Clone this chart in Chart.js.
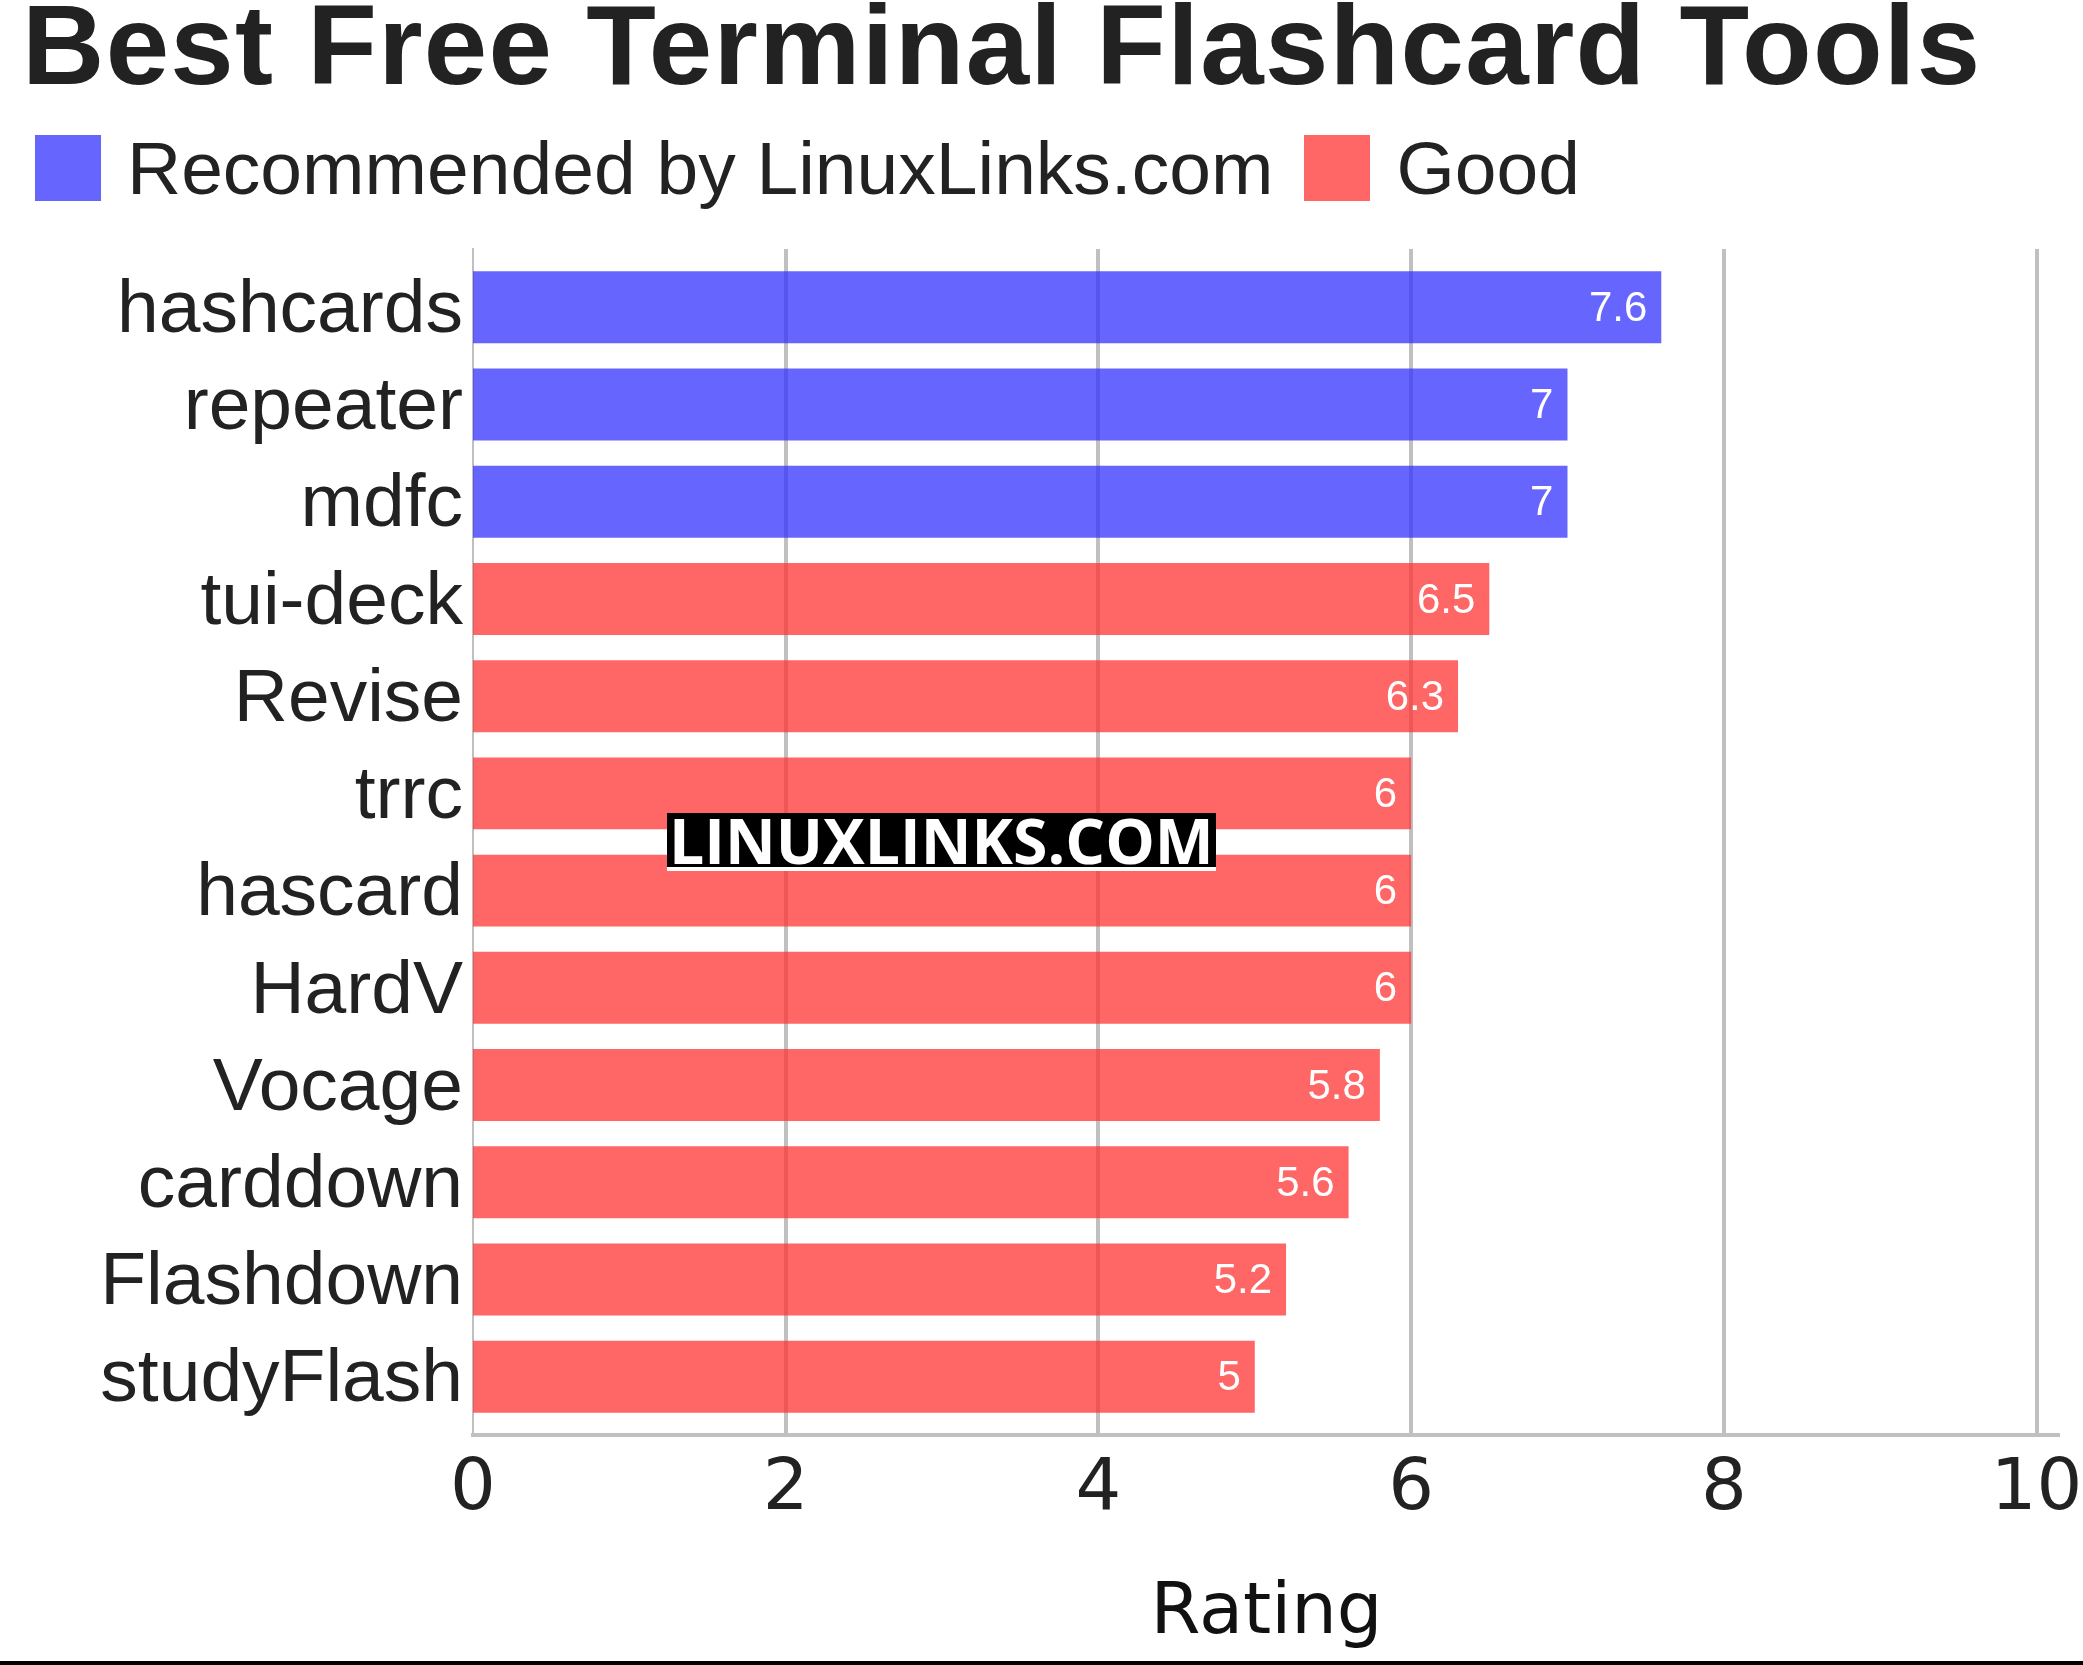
<!DOCTYPE html>
<html>
<head>
<meta charset="utf-8">
<title>Best Free Terminal Flashcard Tools</title>
<script src="https://cdn.jsdelivr.net/npm/chart.js@4.4.1/dist/chart.umd.min.js"></script>
<style>
  body { margin: 0; background: #fff; }
  #page { position: relative; width: 2083px; height: 1665px; overflow: hidden; background: #fff; }
  #title { position: absolute; left: 22px; top: -12px; font: bold 114px/114px "Liberation Sans", Arial, sans-serif; letter-spacing: 1.3px; color: #222; white-space: nowrap; }
  #legend { position: absolute; left: 35px; top: 135px; display: flex; height: 66px; font: 75px/66px "Liberation Sans", Arial, sans-serif; color: #222; white-space: nowrap; }
  #legend .item { display: flex; align-items: center; margin-right: 31px; }
  #legend .swatch { width: 66px; height: 66px; margin-right: 26px; }
  #chart { position: absolute; left: 0; top: 0; }
  #mark { position: absolute; left: 667px; top: 813px; height: 54px; padding: 0 2px; background: #000; border-bottom: 4px solid #fff; font: bold 62.5px/54px "Open Sans", sans-serif; color: #fff; white-space: nowrap; }
  #rule { position: absolute; left: 0; top: 1661px; width: 2083px; height: 4px; background: #000; }
</style>
</head>
<body>
<div id="page">
  <div id="title">Best Free Terminal Flashcard Tools</div>
  <div id="legend"></div>
  <canvas id="chart" width="2083" height="1660"></canvas>
  <div id="mark">LINUXLINKS.COM</div>
  <div id="rule"></div>
</div>
<script>
// tools, top to bottom
const tools = ['hashcards', 'repeater', 'mdfc', 'tui-deck', 'Revise', 'trrc',
               'hascard', 'HardV', 'Vocage', 'carddown', 'Flashdown', 'studyFlash'];

// ratings split by verdict (null = not in that group)
const recommended = [7.6, 7, 7, null, null, null, null, null, null, null, null, null];
const good        = [null, null, null, 6.5, 6.3, 6, 6, 6, 5.8, 5.6, 5.2, 5];

const seriesNames  = ['Recommended by LinuxLinks.com', 'Good'];
const seriesColors = ['#6666ff', '#ff6666'];
// bars are slightly see-through so the gridlines show faintly
const barColors    = ['rgba(51, 51, 255, 0.75)', 'rgba(255, 51, 51, 0.75)'];

const xTicks = [0, 2, 4, 6, 8, 10];

function toPoints(values) {
    const pts = [];
    values.forEach((v, i) => {
        if (v !== null) pts.push({ x: v, y: i });
    });
    return pts;
}

// html legend
const legendEl = document.getElementById('legend');
seriesNames.forEach((name, i) => {
    const item = document.createElement('div');
    item.className = 'item';
    const sw = document.createElement('div');
    sw.className = 'swatch';
    sw.style.background = seriesColors[i];
    const txt = document.createElement('span');
    txt.textContent = name;
    item.appendChild(sw);
    item.appendChild(txt);
    legendEl.appendChild(item);
});

// white value text at the end of every bar
const valueLabels = {
    id: 'valueLabels',
    afterDatasetsDraw(chart) {
        const ctx = chart.ctx;
        ctx.save();
        ctx.font = '42px "Liberation Sans", Arial, sans-serif';
        ctx.fillStyle = '#fff';
        ctx.textAlign = 'right';
        ctx.textBaseline = 'middle';
        chart.data.datasets.forEach((ds, di) => {
            chart.getDatasetMeta(di).data.forEach((bar, i) => {
                ctx.fillText(String(ds.data[i].x), bar.x - 14, bar.y + 2);
            });
        });
        ctx.restore();
    }
};

const ctx = document.getElementById('chart').getContext('2d');
new Chart(ctx, {
    type: 'bar',
    data: {
        datasets: [
            { label: seriesNames[0], data: toPoints(recommended), backgroundColor: barColors[0] },
            { label: seriesNames[1], data: toPoints(good), backgroundColor: barColors[1] }
        ]
    },
    options: {
        indexAxis: 'y',
        responsive: false,
        animation: false,
        devicePixelRatio: 1,
        layout: { padding: { top: 249, right: 23, left: 0, bottom: 0 } },
        datasets: {
            bar: { grouped: false, categoryPercentage: 1, barPercentage: 0.74, borderWidth: 0 }
        },
        plugins: {
            legend: { display: false },
            tooltip: { enabled: false }
        },
        scales: {
            x: {
                type: 'linear',
                position: 'bottom',
                min: 0,
                max: 10.15,
                bounds: 'data',
                offset: false,
                z: 1,
                afterBuildTicks: (scale) => { scale.ticks = xTicks.map(v => ({ value: v })); },
                afterFit: (scale) => {
                    scale.height = 225;
                    scale.paddingLeft = 0;
                    scale.paddingRight = 0;
                },
                grid: {
                    color: '#c0c0c0',
                    lineWidth: (c) => (c.tick && c.tick.value === 0 ? 0 : 4),
                    drawTicks: false
                },
                border: { color: '#c0c0c0', width: 4, z: 1 },
                ticks: {
                    font: { family: 'DejaVu Sans', size: 72 },
                    color: '#222',
                    padding: 12,
                    maxRotation: 0
                },
                title: {
                    display: true,
                    text: 'Rating',
                    font: { family: 'DejaVu Sans', size: 72 },
                    color: '#111',
                    padding: { top: 0, bottom: 3 }
                }
            },
            y: {
                type: 'linear',
                min: -0.6,
                max: 11.6,
                bounds: 'data',
                offset: false,
                reverse: true,
                afterBuildTicks: (scale) => { scale.ticks = tools.map((_, i) => ({ value: i })); },
                afterFit: (scale) => { scale.width = 473; },
                grid: { display: false, drawTicks: false, offset: false },
                border: { color: '#c0c0c0', width: 2 },
                ticks: {
                    font: { family: 'Liberation Sans', size: 75 },
                    color: '#222',
                    padding: 10,
                    labelOffset: 4,
                    autoSkip: false,
                    callback: (v) => tools[v]
                }
            }
        }
    },
    plugins: [valueLabels]
});
</script>
</body>
</html>
